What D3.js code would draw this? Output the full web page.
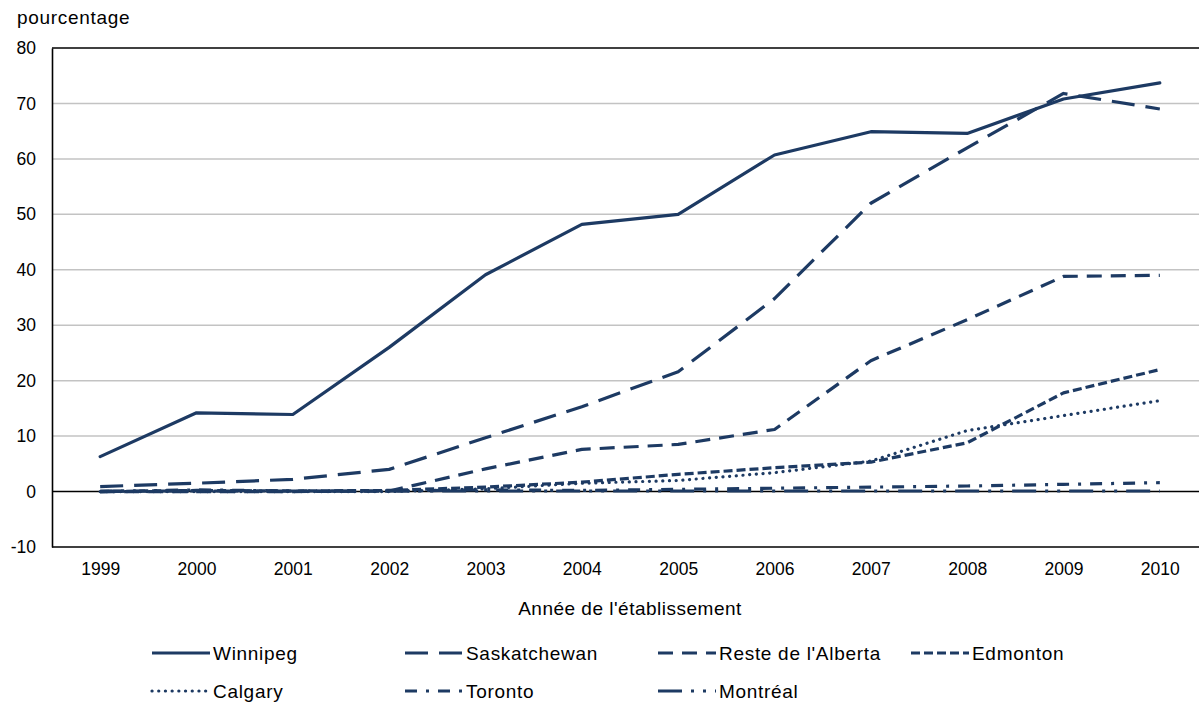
<!DOCTYPE html>
<html>
<head>
<meta charset="utf-8">
<script src="https://cdn.jsdelivr.net/npm/d3@7"></script>
<style>
  html, body { margin: 0; padding: 0; background: #fff; }
  svg text { font-family: "Liberation Sans", Arial, sans-serif; fill: #000; }
</style>
</head>
<body>
<svg id="chart" width="1199" height="704"></svg>
<script>
// Years of establishment
const years = [1999, 2000, 2001, 2002, 2003, 2004, 2005, 2006, 2007, 2008, 2009, 2010];

// Percentage series per region
const winnipeg     = [6.3, 14.2, 13.9, 26.0, 39.1, 48.2, 50.0, 60.7, 64.9, 64.6, 70.8, 73.7];
const saskatchewan = [0.9, 1.5, 2.2, 4.0, 9.7, 15.3, 21.6, 34.8, 52.0, 62.0, 71.8, 69.0];
const resteAlberta = [0.0, 0.0, 0.0, 0.1, 4.1, 7.6, 8.5, 11.2, 23.6, 31.0, 38.8, 39.0];
const edmonton     = [0.0, 0.2, 0.1, 0.2, 0.8, 1.7, 3.1, 4.3, 5.3, 8.8, 17.8, 22.0];
const calgary      = [0.0, 0.0, 0.0, 0.0, 0.5, 1.5, 2.0, 3.4, 5.5, 11.0, 13.7, 16.4];
const toronto      = [0.0, 0.3, 0.1, 0.1, 0.3, 0.2, 0.4, 0.6, 0.8, 1.0, 1.3, 1.6];
const montreal     = [0.1, 0.1, 0.1, 0.1, 0.1, 0.1, 0.1, 0.1, 0.1, 0.1, 0.1, 0.1];

const seriesNames = ["Winnipeg", "Saskatchewan", "Reste de l'Alberta", "Edmonton", "Calgary", "Toronto", "Montréal"];
const yTicks = [-10, 0, 10, 20, 30, 40, 50, 60, 70, 80];

const yTitle = "pourcentage";
const xTitle = "Année de l'établissement";

const series = [
  { name: seriesNames[0], values: winnipeg,     dash: null },
  { name: seriesNames[1], values: saskatchewan, dash: "23,11" },
  { name: seriesNames[2], values: resteAlberta, dash: "15,9" },
  { name: seriesNames[3], values: edmonton,     dash: "9,4" },
  { name: seriesNames[4], values: calgary,      dash: "0.1,6.6", cap: "round" },
  { name: seriesNames[5], values: toronto,      dash: "12,9,3,9" },
  { name: seriesNames[6], values: montreal,     dash: "24,9,3,9,3,9" }
];

const color = "#1d3a63";
const lineW = 3.2;
const wordFont = 19, wordSpacing = 0.7, numFont = 17.5;

const svg = d3.select("#chart");

const plot = { left: 52, right: 1208, top: 48, bottom: 547 };

const x = d3.scalePoint()
  .domain(years)
  .range([plot.left, plot.right])
  .padding(0.5);

const y = d3.scaleLinear()
  .domain([-10, 80])
  .range([plot.bottom, plot.top]);

// Horizontal gridlines
svg.append("g")
  .selectAll("line")
  .data(yTicks.filter(t => t !== 0 && t !== -10 && t !== 80))
  .join("line")
  .attr("x1", plot.left).attr("x2", plot.right)
  .attr("y1", d => y(d)).attr("y2", d => y(d))
  .attr("stroke", "#c3c3c3")
  .attr("stroke-width", 1.5);

// Plot frame: top and bottom edges
svg.append("line")
  .attr("x1", plot.left).attr("x2", plot.right)
  .attr("y1", y(80)).attr("y2", y(80))
  .attr("stroke", "#000").attr("stroke-width", 1.6);
svg.append("line")
  .attr("x1", plot.left).attr("x2", plot.right)
  .attr("y1", y(-10)).attr("y2", y(-10))
  .attr("stroke", "#000").attr("stroke-width", 1.6);

// Y axis with tick labels
const yAxis = d3.axisLeft(y)
  .tickValues(yTicks)
  .tickSize(0)
  .tickPadding(16)
  .tickFormat(d => String(d));

const yg = svg.append("g")
  .attr("transform", `translate(${plot.left},0)`)
  .call(yAxis);
yg.select(".domain").attr("stroke", "#000").attr("stroke-width", 1.6);
yg.selectAll("text")
  .attr("font-size", numFont)
  .attr("font-family", "Liberation Sans, Arial, sans-serif");

// X axis labels (no ticks)
const xAxis = d3.axisBottom(x).tickSize(0).tickPadding(16);
const xg = svg.append("g")
  .attr("transform", `translate(0,${y(-10)})`)
  .call(xAxis);
xg.select(".domain").remove();
xg.selectAll("text")
  .attr("font-size", numFont)
  .attr("font-family", "Liberation Sans, Arial, sans-serif");

// Zero baseline
svg.append("line")
  .attr("x1", plot.left).attr("x2", plot.right)
  .attr("y1", y(0)).attr("y2", y(0))
  .attr("stroke", "#000").attr("stroke-width", 1.6);

// Series lines
const line = d3.line()
  .x((d, i) => x(years[i]))
  .y(d => y(d));

svg.append("g")
  .selectAll("path")
  .data(series)
  .join("path")
  .attr("d", d => line(d.values))
  .attr("fill", "none")
  .attr("stroke", color)
  .attr("stroke-width", lineW)
  .attr("stroke-linejoin", "round")
  .attr("stroke-linecap", d => d.cap || (d.dash ? "butt" : "round"))
  .attr("stroke-dasharray", d => d.dash);

// Axis titles
svg.append("text")
  .attr("x", 17).attr("y", 24)
  .attr("font-size", wordFont)
  .attr("letter-spacing", wordSpacing)
  .text(yTitle);

svg.append("text")
  .attr("x", (plot.left + plot.right) / 2).attr("y", 615)
  .attr("text-anchor", "middle")
  .attr("font-size", wordFont)
  .attr("letter-spacing", 0.5)
  .text(xTitle);

// Legend: two rows, four columns
const legend = svg.append("g");
const colW = 253;
series.forEach((s, i) => {
  const col = i % 4, row = Math.floor(i / 4);
  const lx = 152 + col * colW;
  const ly = 653 + row * 38;
  legend.append("line")
    .attr("x1", lx).attr("x2", lx + 58)
    .attr("y1", ly).attr("y2", ly)
    .attr("stroke", color)
    .attr("stroke-width", lineW)
    .attr("stroke-linecap", s.cap || "butt")
    .attr("stroke-dasharray", s.dash);
  legend.append("text")
    .attr("x", lx + 61).attr("y", ly + 6.5)
    .attr("font-size", wordFont)
    .attr("letter-spacing", wordSpacing)
    .text(s.name);
});
</script>
</body>
</html>
